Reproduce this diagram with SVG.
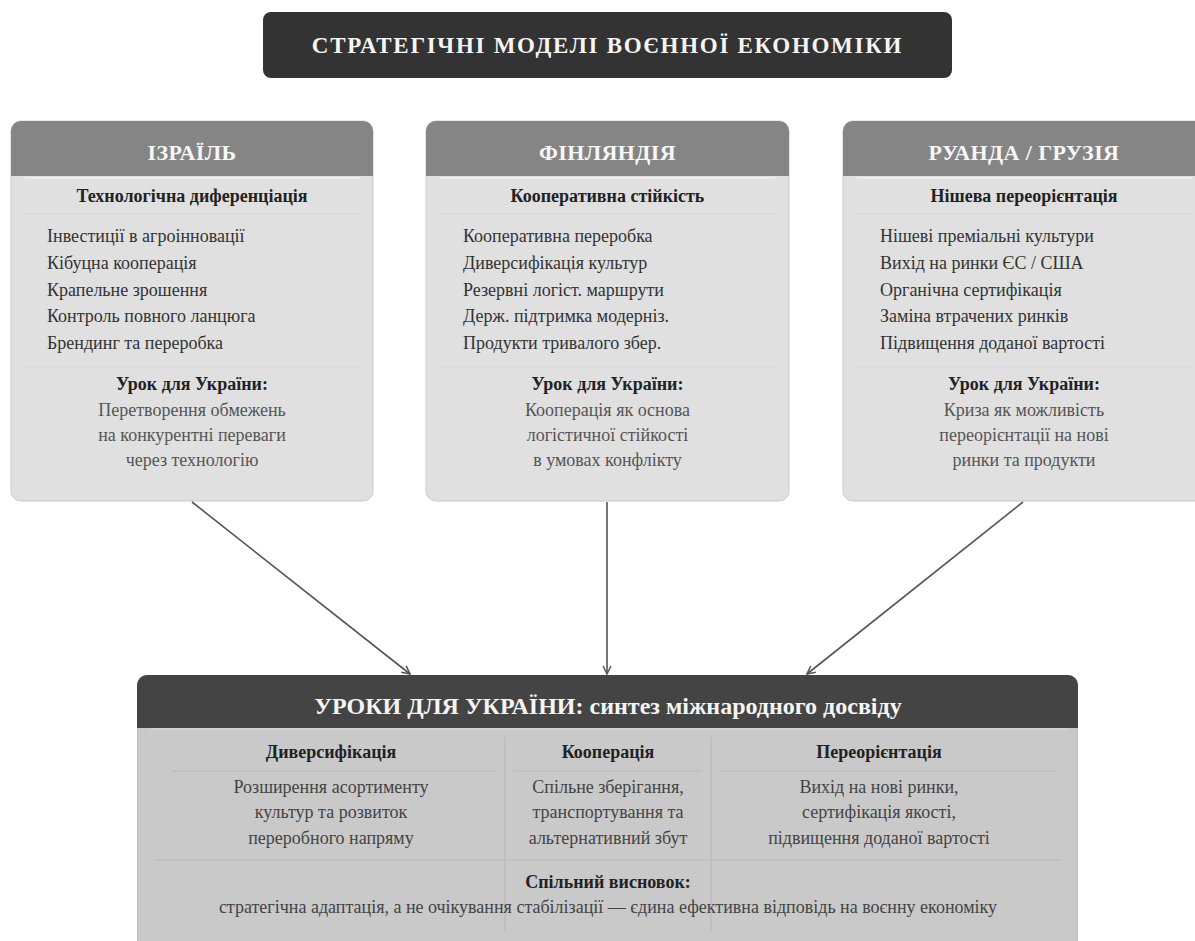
<svg xmlns="http://www.w3.org/2000/svg" width="1195" height="941" viewBox="0 0 1195 941">
  <defs>
    <marker id="arrow" viewBox="0 0 10 10" refX="9" refY="5" markerWidth="10" markerHeight="10" markerUnits="userSpaceOnUse" orient="auto">
      <path d="M1,1 L9,5 L1,9" fill="none" stroke="#555" stroke-width="1.5"/>
    </marker>
    <clipPath id="cardClip1"><rect x="11" y="121" width="362" height="380" rx="10"/></clipPath>
    <clipPath id="cardClip2"><rect x="426" y="121" width="363" height="380" rx="10"/></clipPath>
    <clipPath id="cardClip3"><rect x="843" y="121" width="362" height="380" rx="10"/></clipPath>
    <clipPath id="synthClip"><rect x="137" y="675" width="941" height="290" rx="10"/></clipPath>
  </defs>
  <style>
    text { font-family: "Liberation Serif", "Times New Roman", serif; }
    .card-body { fill: #e0e0e0; stroke: #c9c9c9; stroke-width: 1; }
    .card-head { fill: #858585; }
    .head-txt { fill: #f7f7f7; font-size: 22px; font-weight: bold; text-anchor: middle; letter-spacing: 0.4px; }
    .sub-txt { fill: #222; font-size: 18px; font-weight: bold; text-anchor: middle; }
    .item { fill: #333; font-size: 18px; }
    .lesson-h { fill: #222; font-size: 18px; font-weight: bold; text-anchor: middle; }
    .lesson { fill: #555; font-size: 18px; text-anchor: middle; }
    .sep-light { stroke: #ececec; stroke-width: 2; }
    .sep { stroke: #d6d6d6; stroke-width: 1; }
    .conn { stroke: #555; stroke-width: 1.6; fill: none; marker-end: url(#arrow); }
    .col-h { fill: #222; font-size: 18px; font-weight: bold; text-anchor: middle; }
    .col-txt { fill: #444; font-size: 18px; text-anchor: middle; }
    .div { stroke: #b9b9b9; stroke-width: 1.2; }
  </style>

  <rect width="1195" height="941" fill="#ffffff"/>

  <!-- Title banner -->
  <g id="title">
    <rect x="263" y="12" width="689" height="66" rx="8" fill="#333333"/>
    <text x="607.5" y="53" font-size="23" font-weight="bold" fill="#f5f5f5" text-anchor="middle" letter-spacing="1.7">СТРАТЕГІЧНІ МОДЕЛІ ВОЄННОЇ ЕКОНОМІКИ</text>
  </g>

  <!-- Country model: Israel -->
  <g id="israel">
    <rect class="card-body" x="11" y="121" width="362" height="380" rx="10"/>
    <g clip-path="url(#cardClip1)"><rect class="card-head" x="11" y="121" width="362" height="55"/></g>
    <text class="head-txt" x="192" y="160">ІЗРАЇЛЬ</text>
    <line class="sep-light" x1="25" y1="178" x2="360" y2="178"/>
    <text class="sub-txt" x="192" y="202">Технологічна диференціація</text>
    <line class="sep" x1="25" y1="214" x2="360" y2="214"/>
    <text class="item" x="47" y="242">Інвестиції в агроінновації</text>
    <text class="item" x="47" y="269">Кібуцна кооперація</text>
    <text class="item" x="47" y="296">Крапельне зрошення</text>
    <text class="item" x="47" y="322">Контроль повного ланцюга</text>
    <text class="item" x="47" y="349">Брендинг та переробка</text>
    <line class="sep" x1="25" y1="367" x2="360" y2="367"/>
    <text class="lesson-h" x="192" y="390">Урок для України:</text>
    <text class="lesson" x="192" y="416">Перетворення обмежень</text>
    <text class="lesson" x="192" y="441">на конкурентні переваги</text>
    <text class="lesson" x="192" y="466">через технологію</text>
  </g>

  <!-- Country model: Finland -->
  <g id="finland">
    <rect class="card-body" x="426" y="121" width="363" height="380" rx="10"/>
    <g clip-path="url(#cardClip2)"><rect class="card-head" x="426" y="121" width="363" height="55"/></g>
    <text class="head-txt" x="607.5" y="160">ФІНЛЯНДІЯ</text>
    <line class="sep-light" x1="440" y1="178" x2="775" y2="178"/>
    <text class="sub-txt" x="607.5" y="202">Кооперативна стійкість</text>
    <line class="sep" x1="440" y1="214" x2="775" y2="214"/>
    <text class="item" x="463" y="242">Кооперативна переробка</text>
    <text class="item" x="463" y="269">Диверсифікація культур</text>
    <text class="item" x="463" y="296">Резервні логіст. маршрути</text>
    <text class="item" x="463" y="322">Держ. підтримка модерніз.</text>
    <text class="item" x="463" y="349">Продукти тривалого збер.</text>
    <line class="sep" x1="440" y1="367" x2="775" y2="367"/>
    <text class="lesson-h" x="607.5" y="390">Урок для України:</text>
    <text class="lesson" x="607.5" y="416">Кооперація як основа</text>
    <text class="lesson" x="607.5" y="441">логістичної стійкості</text>
    <text class="lesson" x="607.5" y="466">в умовах конфлікту</text>
  </g>

  <!-- Country model: Rwanda / Georgia -->
  <g id="rwanda-georgia">
    <rect class="card-body" x="843" y="121" width="362" height="380" rx="10"/>
    <g clip-path="url(#cardClip3)"><rect class="card-head" x="843" y="121" width="362" height="55"/></g>
    <text class="head-txt" x="1024" y="160">РУАНДА / ГРУЗІЯ</text>
    <line class="sep-light" x1="857" y1="178" x2="1192" y2="178"/>
    <text class="sub-txt" x="1024" y="202">Нішева переорієнтація</text>
    <line class="sep" x1="857" y1="214" x2="1192" y2="214"/>
    <text class="item" x="880" y="242">Нішеві преміальні культури</text>
    <text class="item" x="880" y="269">Вихід на ринки ЄС / США</text>
    <text class="item" x="880" y="296">Органічна сертифікація</text>
    <text class="item" x="880" y="322">Заміна втрачених ринків</text>
    <text class="item" x="880" y="349">Підвищення доданої вартості</text>
    <line class="sep" x1="857" y1="367" x2="1192" y2="367"/>
    <text class="lesson-h" x="1024" y="390">Урок для України:</text>
    <text class="lesson" x="1024" y="416">Криза як можливість</text>
    <text class="lesson" x="1024" y="441">переорієнтації на нові</text>
    <text class="lesson" x="1024" y="466">ринки та продукти</text>
  </g>

  <!-- Connectors -->
  <g id="connectors">
    <line class="conn" x1="192" y1="502" x2="410" y2="674"/>
    <line class="conn" x1="607" y1="502" x2="607" y2="674"/>
    <line class="conn" x1="1023" y1="502" x2="807" y2="674"/>
  </g>

  <!-- Synthesis block -->
  <g id="synthesis">
    <g clip-path="url(#synthClip)">
      <rect x="137" y="675" width="941" height="290" fill="#c9c9c9" stroke="#b5b5b5" stroke-width="1"/>
      <rect x="137" y="675" width="941" height="53" fill="#444444"/>
    </g>
    <text x="608" y="714" font-size="24" font-weight="bold" fill="#f5f5f5" text-anchor="middle">УРОКИ ДЛЯ УКРАЇНИ: синтез міжнародного досвіду</text>
    <line x1="150" y1="729" x2="1068" y2="729" stroke="#d2d2d2" stroke-width="1.5"/>

    <line class="div" x1="505" y1="737" x2="505" y2="932"/>
    <line class="div" x1="711" y1="737" x2="711" y2="932"/>

    <text class="col-h" x="331" y="758">Диверсифікація</text>
    <line class="div" x1="172" y1="771" x2="497" y2="771"/>
    <text class="col-txt" x="331" y="793">Розширення асортименту</text>
    <text class="col-txt" x="331" y="818">культур та розвиток</text>
    <text class="col-txt" x="331" y="844">переробного напряму</text>

    <text class="col-h" x="608" y="758">Кооперація</text>
    <line class="div" x1="513" y1="771" x2="702" y2="771"/>
    <text class="col-txt" x="608" y="793">Спільне зберігання,</text>
    <text class="col-txt" x="608" y="818">транспортування та</text>
    <text class="col-txt" x="608" y="844">альтернативний збут</text>

    <text class="col-h" x="879" y="758">Переорієнтація</text>
    <line class="div" x1="720" y1="771" x2="1056" y2="771"/>
    <text class="col-txt" x="879" y="793">Вихід на нові ринки,</text>
    <text class="col-txt" x="879" y="818">сертифікація якості,</text>
    <text class="col-txt" x="879" y="844">підвищення доданої вартості</text>

    <line class="div" x1="156" y1="860" x2="1060" y2="860"/>
    <text class="col-h" x="608" y="888">Спільний висновок:</text>
    <text class="col-txt" x="608" y="913">стратегічна адаптація, а не очікування стабілізації — єдина ефективна відповідь на воєнну економіку</text>
  </g>
</svg>
